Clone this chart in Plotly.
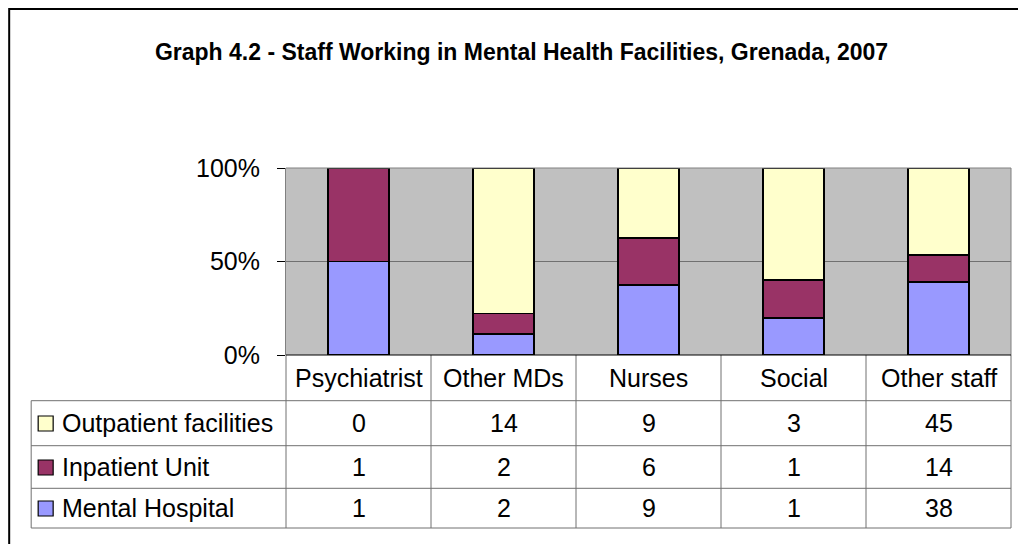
import plotly.graph_objects as go

categories = ["Psychiatrist", "Other MDs", "Nurses", "Social", "Other staff"]
series_names = ["Outpatient facilities", "Inpatient Unit", "Mental Hospital"]
outpatient = [0, 14, 9, 3, 45]
inpatient = [1, 2, 6, 1, 14]
mental_hospital = [1, 2, 9, 1, 38]
y_ticks = [0, 50, 100]
title_text = "Graph 4.2 - Staff Working in Mental Health Facilities, Grenada, 2007"

W, H = 1018, 544
PL, PR, PT, PB = 286, 1011.5, 168, 355  # plot area in pixels
FONT = "Arial, Liberation Sans, sans-serif"

colors = {"Outpatient facilities": "#FFFFCC", "Inpatient Unit": "#993366", "Mental Hospital": "#9999FF"}
values = {"Outpatient facilities": outpatient, "Inpatient Unit": inpatient, "Mental Hospital": mental_hospital}


def px_x(p):
    return (p - PL) / (PR - PL)


def px_y(p):
    return (PB - p) / (PB - PT)


fig = go.Figure()
for name in ["Mental Hospital", "Inpatient Unit", "Outpatient facilities"]:
    fig.add_trace(go.Bar(
        x=categories, y=values[name], name=name,
        marker=dict(color=colors[name], line=dict(color="#000000", width=1.8)),
        width=0.42, showlegend=False,
    ))

shapes = []
annotations = []
line_col = "#707070"

# table geometry (pixels)
row_lines = [400.7, 445.7, 488.3, 528]
row_centers = [423, 467, 508]
header_center = 378
n = len(categories)

# horizontal table lines
for yl in row_lines:
    shapes.append(dict(type="line", xref="paper", yref="paper", x0=px_x(31), x1=1, y0=px_y(yl), y1=px_y(yl),
                       line=dict(color=line_col, width=1)))
# vertical lines
shapes.append(dict(type="line", xref="paper", yref="paper", x0=px_x(31), x1=px_x(31),
                   y0=px_y(row_lines[0]), y1=px_y(row_lines[-1]), line=dict(color=line_col, width=1)))
for k in range(n + 1):
    xx = k / n
    shapes.append(dict(type="line", xref="paper", yref="paper", x0=xx, x1=xx,
                       y0=0, y1=px_y(row_lines[-1]), line=dict(color=line_col, width=1)))

# plot border: top and right gray
shapes.append(dict(type="line", xref="paper", yref="paper", x0=0, x1=1, y0=1, y1=1, line=dict(color="#808080", width=1)))
shapes.append(dict(type="line", xref="paper", yref="paper", x0=1, x1=1, y0=0, y1=1, line=dict(color="#808080", width=1)))
# 0% baseline black
shapes.append(dict(type="line", xref="paper", yref="paper", x0=0, x1=1, y0=0, y1=0, line=dict(color="#000000", width=1)))

# outer chart border (top & left visible)
shapes.append(dict(type="rect", xref="paper", yref="paper", x0=px_x(9), x1=px_x(1040), y0=px_y(9), y1=px_y(570),
                   line=dict(color="#000000", width=2), fillcolor="rgba(0,0,0,0)", layer="above"))

# category header labels
for i, c in enumerate(categories):
    annotations.append(dict(x=(i + 0.5) / n, y=px_y(header_center), xref="paper", yref="paper", text=c,
                            showarrow=False, font=dict(family=FONT, size=25, color="#000"),
                            xanchor="center", yanchor="middle"))

# rows
for r, name in enumerate(series_names):
    yc = row_centers[r]
    shapes.append(dict(type="rect", xref="paper", yref="paper", x0=px_x(38), x1=px_x(53),
                       y0=px_y(yc - 7), y1=px_y(yc + 8), fillcolor=colors[name],
                       line=dict(color="#000000", width=1.2)))
    annotations.append(dict(x=px_x(60), y=px_y(yc), xref="paper", yref="paper", text=name,
                            showarrow=False, font=dict(family=FONT, size=25, color="#000"),
                            xanchor="left", yanchor="middle"))
    for i, v in enumerate(values[name]):
        annotations.append(dict(x=(i + 0.5) / n, y=px_y(yc), xref="paper", yref="paper", text=str(v),
                                showarrow=False, font=dict(family=FONT, size=25, color="#000"),
                                xanchor="center", yanchor="middle"))

fig.update_layout(
    width=W, height=H,
    margin=dict(l=PL, r=W - PR, t=PT, b=H - PB, pad=0),
    paper_bgcolor="#FFFFFF",
    plot_bgcolor="#C0C0C0",
    barmode="stack", barnorm="percent",
    title=dict(text="<b>" + title_text + "</b>", x=521.5 / W, y=1 - 52 / H, xref="container", yref="container",
               xanchor="center", yanchor="middle", font=dict(family=FONT, size=23, color="#000")),
    font=dict(family=FONT, size=25, color="#000"),
    xaxis=dict(showticklabels=False, showgrid=False, zeroline=False, showline=False, ticks="",
               range=[-0.5, n - 0.5], fixedrange=True),
    yaxis=dict(range=[0, 100], tickvals=y_ticks, ticktext=[f"{t}%" for t in y_ticks],
               showgrid=True, gridcolor="#707070", gridwidth=1, zeroline=False,
               showline=True, linecolor="#808080", linewidth=1,
               ticks="outside", ticklen=8, tickcolor="#000000", tickwidth=1,
               ticklabelstandoff=12, tickfont=dict(family=FONT, size=25, color="#000")),
    shapes=shapes, annotations=annotations,
)

fig.write_html("out.html", config={"displayModeBar": False},
               post_script="document.body.style.margin='0px';document.body.style.overflow='hidden';")
